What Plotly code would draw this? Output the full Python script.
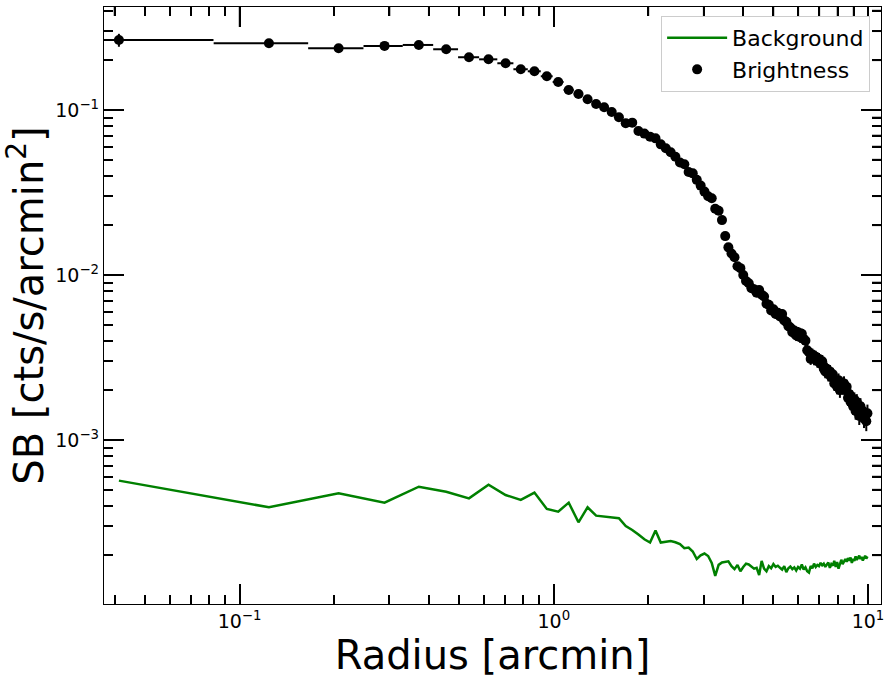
import plotly.graph_objects as go

# Bin centres [arcmin]
radius = [
    0.0413, 0.1240, 0.2066, 0.2893, 0.3719, 0.4545, 0.5372, 0.6198, 0.7025, 0.7851,
    0.8678, 0.9504, 1.0331, 1.1157, 1.1983, 1.2810, 1.3636, 1.4463, 1.5289, 1.6116,
    1.6942, 1.7769, 1.8595, 1.9421, 2.0248, 2.1074, 2.1901, 2.2727, 2.3554, 2.4380,
    2.5207, 2.6033, 2.6860, 2.7686, 2.8512, 2.9339, 3.0165, 3.0992, 3.1818, 3.2645,
    3.3471, 3.4298, 3.5124, 3.5950, 3.6777, 3.7603, 3.8430, 3.9256, 4.0083, 4.0909,
    4.1736, 4.2562, 4.3388, 4.4215, 4.5041, 4.5868, 4.6694, 4.7521, 4.8347, 4.9174,
    5.0000, 5.0826, 5.1653, 5.2479, 5.3306, 5.4132, 5.4959, 5.5785, 5.6612, 5.7438,
    5.8264, 5.9091, 5.9917, 6.0744, 6.1570, 6.2397, 6.3223, 6.4050, 6.4876, 6.5702,
    6.6529, 6.7355, 6.8182, 6.9008, 6.9835, 7.0661, 7.1488, 7.2314, 7.3140, 7.3967,
    7.4793, 7.5620, 7.6446, 7.7273, 7.8099, 7.8926, 7.9752, 8.0579, 8.1405, 8.2231,
    8.3058, 8.3884, 8.4711, 8.5537, 8.6364, 8.7190, 8.8017, 8.8843, 8.9669, 9.0496,
    9.1322, 9.2149, 9.2975, 9.3802, 9.4628, 9.5455, 9.6281, 9.7107, 9.7934, 9.8760,
    9.9587,
]
radius_half_width = [0.0413] * len(radius)

brightness = [
    0.2655, 0.2535, 0.2366, 0.2445, 0.2477, 0.2333, 0.2087, 0.2027, 0.1919, 0.1765,
    0.1716, 0.1600, 0.1478, 0.1322, 0.1250, 0.1161, 0.1088, 0.1038, 0.0972, 0.0903,
    0.0830, 0.0838, 0.0746, 0.0719, 0.0689, 0.0673, 0.0619, 0.0586, 0.0554, 0.0521,
    0.0480, 0.0469, 0.0421, 0.0413, 0.0377, 0.0348, 0.0320, 0.0300, 0.0292, 0.0252,
    0.0245, 0.0215, 0.0172, 0.0147, 0.0135, 0.0128, 0.0113, 0.0110, 0.0100, 0.0092,
    0.0089, 0.0083, 0.0082, 0.0078, 0.0081, 0.0076, 0.0074, 0.0067, 0.0066, 0.0061,
    0.0062, 0.0058, 0.0059, 0.0056, 0.0058, 0.0053, 0.0052, 0.0049, 0.0048, 0.0045,
    0.0046, 0.0043, 0.0045, 0.0042, 0.0044, 0.0041, 0.0040, 0.0035, 0.0034, 0.0031,
    0.0033, 0.0031, 0.0032, 0.0030, 0.0031, 0.0029, 0.0030, 0.0027, 0.0026, 0.0027,
    0.0025, 0.0026, 0.0024, 0.0025, 0.0022, 0.0023, 0.0021, 0.0023, 0.0020, 0.0022,
    0.0021, 0.0022, 0.0020, 0.0021, 0.0018, 0.0019, 0.0017, 0.0018, 0.0016, 0.00175,
    0.0015, 0.0017, 0.00155, 0.0014, 0.0016, 0.00145, 0.0015, 0.00135, 0.0014, 0.0013,
    0.00145,
]

brightness_rel_err = [
    0.09, 0.02, 0.02, 0.02, 0.02, 0.02, 0.02, 0.02, 0.02, 0.02,
    0.02, 0.025, 0.025, 0.025, 0.025, 0.025, 0.025, 0.03, 0.03, 0.03,
    0.03, 0.03, 0.03, 0.03, 0.03, 0.035, 0.035, 0.035, 0.035, 0.035,
    0.035, 0.04, 0.04, 0.04, 0.04, 0.04, 0.04, 0.04, 0.045, 0.045,
    0.045, 0.045, 0.045, 0.05, 0.05, 0.05, 0.05, 0.05, 0.05, 0.055,
    0.055, 0.055, 0.055, 0.055, 0.06, 0.06, 0.06, 0.06, 0.06, 0.06,
    0.065, 0.065, 0.065, 0.065, 0.065, 0.07, 0.07, 0.07, 0.07, 0.07,
    0.075, 0.075, 0.075, 0.075, 0.075, 0.08, 0.08, 0.08, 0.08, 0.08,
    0.085, 0.085, 0.085, 0.085, 0.085, 0.09, 0.09, 0.09, 0.09, 0.09,
    0.095, 0.095, 0.095, 0.095, 0.095, 0.10, 0.10, 0.10, 0.10, 0.10,
    0.105, 0.105, 0.105, 0.105, 0.105, 0.11, 0.11, 0.11, 0.11, 0.11,
    0.115, 0.115, 0.115, 0.12, 0.12, 0.12, 0.125, 0.125, 0.125, 0.13,
    0.13,
]

background = [
    5.67e-4, 3.91e-4, 4.75e-4, 4.17e-4, 5.21e-4, 4.86e-4, 4.43e-4, 5.36e-4, 4.64e-4, 4.33e-4,
    4.80e-4, 3.82e-4, 3.68e-4, 4.17e-4, 3.17e-4, 3.91e-4, 3.48e-4, 3.44e-4, 3.40e-4, 3.36e-4,
    3.01e-4, 2.85e-4, 2.67e-4, 2.50e-4, 2.39e-4, 2.83e-4, 2.39e-4, 2.42e-4, 2.44e-4, 2.40e-4,
    2.34e-4, 2.21e-4, 2.23e-4, 2.11e-4, 1.90e-4, 2.00e-4, 2.05e-4, 1.98e-4, 1.80e-4, 1.50e-4,
    1.75e-4, 1.81e-4, 1.82e-4, 1.84e-4, 1.72e-4, 1.65e-4, 1.75e-4, 1.60e-4, 1.70e-4, 1.78e-4,
    1.76e-4, 1.70e-4, 1.66e-4, 1.68e-4, 1.52e-4, 1.85e-4, 1.66e-4, 1.60e-4, 1.72e-4, 1.67e-4,
    1.77e-4, 1.70e-4, 1.73e-4, 1.68e-4, 1.64e-4, 1.72e-4, 1.58e-4, 1.67e-4, 1.71e-4, 1.65e-4,
    1.69e-4, 1.62e-4, 1.70e-4, 1.66e-4, 1.76e-4, 1.64e-4, 1.69e-4, 1.60e-4, 1.57e-4, 1.72e-4,
    1.67e-4, 1.78e-4, 1.70e-4, 1.75e-4, 1.72e-4, 1.80e-4, 1.74e-4, 1.78e-4, 1.70e-4, 1.76e-4,
    1.81e-4, 1.68e-4, 1.77e-4, 1.73e-4, 1.85e-4, 1.70e-4, 1.82e-4, 1.66e-4, 1.80e-4, 1.88e-4,
    1.77e-4, 1.84e-4, 1.90e-4, 1.83e-4, 1.92e-4, 1.86e-4, 1.94e-4, 1.80e-4, 1.90e-4, 1.85e-4,
    1.97e-4, 1.88e-4, 1.93e-4, 1.99e-4, 1.90e-4, 1.96e-4, 1.86e-4, 1.95e-4, 1.99e-4, 1.91e-4,
    1.97e-4,
]

# Tick positions / labels
x_tickvals = [0.1, 1, 10]
x_ticktext = ["10<sup>\u22121</sup>", "10<sup>0</sup>", "10<sup>1</sup>"]
x_minor_ticks = [0.04, 0.05, 0.06, 0.07, 0.08, 0.09,
                 0.2, 0.3, 0.4, 0.5, 0.6, 0.7, 0.8, 0.9,
                 2, 3, 4, 5, 6, 7, 8, 9]
y_tickvals = [0.001, 0.01, 0.1]
y_ticktext = ["10<sup>\u22123</sup>", "10<sup>\u22122</sup>", "10<sup>\u22121</sup>"]
y_minor_ticks = [2e-4, 3e-4, 4e-4, 5e-4, 6e-4, 7e-4, 8e-4, 9e-4,
                 2e-3, 3e-3, 4e-3, 5e-3, 6e-3, 7e-3, 8e-3, 9e-3,
                 0.02, 0.03, 0.04, 0.05, 0.06, 0.07, 0.08, 0.09,
                 0.2, 0.3, 0.4]

X_RANGE = [-1.4315, 1.0414]
Y_RANGE = [-3.994, -0.376]

brightness_err = [b * e for b, e in zip(brightness, brightness_rel_err)]
# keep the lower x-error of the first bin just above zero (log axis)
x_err_minus = [min(w, r * 0.999) for w, r in zip(radius_half_width, radius)]

FONT = "DejaVu Sans"
WIDTH, HEIGHT = 891, 679
MARGIN = dict(l=104, r=10, t=7, b=75)
PLOT_W = WIDTH - MARGIN["l"] - MARGIN["r"]
PLOT_H = HEIGHT - MARGIN["t"] - MARGIN["b"]
MAJOR_LEN, MINOR_LEN = 20, 9
TICK_W = 1.6

fig = go.Figure()
fig.add_trace(go.Scatter(
    x=radius, y=background, mode="lines", name="Background",
    line=dict(color="#008000", width=2.5),
))
fig.add_trace(go.Scatter(
    x=radius, y=brightness, mode="markers", name="Brightness",
    marker=dict(color="black", size=10),
    error_x=dict(type="data", array=radius_half_width, arrayminus=x_err_minus,
                 symmetric=False, color="black", thickness=2, width=0),
    error_y=dict(type="data", array=brightness_err, color="black", thickness=2, width=0),
))
# invisible trace that carries the minor-tick axes
fig.add_trace(go.Scatter(
    x=radius[:1], y=brightness[:1], mode="markers", xaxis="x2", yaxis="y2",
    marker=dict(opacity=0), showlegend=False, hoverinfo="skip",
))

# tick marks on the top and right frame edges (mirrors of the axis ticks)
tick_line = dict(color="black", width=TICK_W)
for v in x_tickvals + x_minor_ticks:
    ln = MAJOR_LEN if v in x_tickvals else MINOR_LEN
    fig.add_shape(type="line", xref="x", yref="paper", x0=v, x1=v,
                  y0=1, y1=1 - ln / PLOT_H, line=tick_line, layer="above")
for v in y_tickvals + y_minor_ticks:
    ln = MAJOR_LEN if v in y_tickvals else MINOR_LEN
    fig.add_shape(type="line", xref="paper", yref="y", y0=v, y1=v,
                  x0=1, x1=1 - ln / PLOT_W, line=tick_line, layer="above")

base = dict(type="log", showgrid=False, zeroline=False,
            showline=True, linecolor="black", linewidth=1.3, mirror="allticks",
            ticks="inside", tickwidth=TICK_W, tickcolor="black",
            tickmode="array")
lab_font = dict(family=FONT, size=19, color="black")

fig.update_layout(
    width=WIDTH, height=HEIGHT,
    margin=MARGIN,
    paper_bgcolor="white", plot_bgcolor="white",
    font=dict(family=FONT, color="black"),
    xaxis=dict(base, range=X_RANGE, tickvals=x_tickvals, ticktext=x_ticktext,
               ticklen=MAJOR_LEN, tickfont=lab_font,
               title=dict(text="Radius [arcmin]", font=dict(family=FONT, size=40), standoff=0)),
    yaxis=dict(base, range=Y_RANGE, tickvals=y_tickvals, ticktext=y_ticktext,
               ticklen=MAJOR_LEN, tickfont=lab_font,
               title=dict(text="SB [cts/s/arcmin<sup>2</sup>]", font=dict(family=FONT, size=40), standoff=8)),
    xaxis2=dict(base, range=X_RANGE, tickvals=x_minor_ticks, ticklen=MINOR_LEN,
                overlaying="x", side="bottom", anchor="y2", showticklabels=False),
    yaxis2=dict(base, range=Y_RANGE, tickvals=y_minor_ticks, ticklen=MINOR_LEN,
                overlaying="y", side="left", anchor="x2", showticklabels=False),
    legend=dict(x=0.986, y=0.985, xanchor="right", yanchor="top",
                bgcolor="white", bordercolor="#cccccc", borderwidth=1,
                font=dict(family=FONT, size=22, color="black"),
                itemwidth=60, tracegroupgap=0),
    showlegend=True,
)

fig.write_html("out.html")
